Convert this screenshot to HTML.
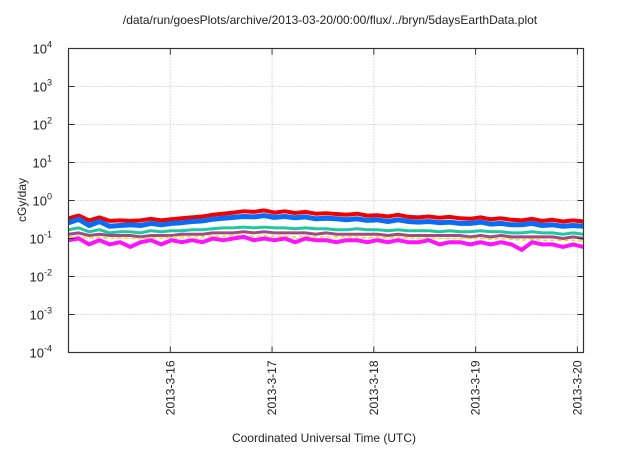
<!DOCTYPE html>
<html><head><meta charset="utf-8"><style>
body{margin:0;background:#fff}
svg text{font-family:"Liberation Sans",sans-serif;fill:#222}
</style></head><body>
<svg id="chart" width="640" height="448" viewBox="0 0 640 448" xmlns="http://www.w3.org/2000/svg">
<rect width="640" height="448" fill="#fff"/>
<text x="330" y="24" font-size="12" text-anchor="middle">/data/run/goesPlots/archive/2013-03-20/00:00/flux/../bryn/5daysEarthData.plot</text>
<text transform="translate(26,200) rotate(-90)" font-size="12" text-anchor="middle">cGy/day</text>
<text x="324" y="442" font-size="12" text-anchor="middle">Coordinated Universal Time (UTC)</text>
<g id="grid"></g><g id="series"></g><g id="axes"></g>
</svg>
<script>
const xTickLabels=["2013-3-16","2013-3-17","2013-3-18","2013-3-19","2013-3-20"];
const xTickDays=[1,2,3,4,5];
const yTickExps=[-4,-3,-2,-1,0,1,2,3,4];
const seriesNames=["red","blue","teal","mauve","yellow","magenta"];
const seriesColors=["#f00000","#0a6cf5","#1ec8a0","#a04a8a","#f0e000","#ff10ff"];
const redVals=[0.34,0.40,0.30,0.36,0.29,0.30,0.29,0.30,0.33,0.30,0.32,0.34,0.36,0.38,0.42,0.45,0.48,0.52,0.50,0.55,0.48,0.52,0.47,0.50,0.45,0.46,0.44,0.42,0.45,0.40,0.41,0.38,0.42,0.37,0.36,0.38,0.35,0.37,0.34,0.33,0.36,0.32,0.34,0.31,0.30,0.33,0.29,0.31,0.28,0.30,0.28];
const blueVals=[0.26,0.32,0.22,0.28,0.21,0.22,0.23,0.22,0.25,0.23,0.25,0.26,0.28,0.29,0.32,0.34,0.36,0.38,0.37,0.40,0.36,0.38,0.35,0.37,0.33,0.34,0.33,0.31,0.33,0.30,0.31,0.28,0.31,0.28,0.27,0.28,0.26,0.27,0.25,0.25,0.27,0.24,0.25,0.23,0.23,0.25,0.22,0.23,0.21,0.22,0.21];
const tealVals=[0.17,0.19,0.15,0.17,0.14,0.15,0.15,0.14,0.16,0.15,0.16,0.16,0.17,0.17,0.18,0.19,0.19,0.20,0.19,0.20,0.19,0.19,0.18,0.19,0.18,0.18,0.17,0.17,0.18,0.17,0.17,0.16,0.17,0.16,0.16,0.16,0.15,0.16,0.15,0.15,0.16,0.15,0.15,0.14,0.14,0.15,0.14,0.14,0.13,0.14,0.13];
const mauveVals=[0.13,0.14,0.12,0.13,0.12,0.12,0.12,0.11,0.12,0.12,0.12,0.13,0.13,0.13,0.14,0.14,0.14,0.15,0.14,0.15,0.14,0.14,0.14,0.14,0.13,0.14,0.13,0.13,0.13,0.13,0.13,0.12,0.13,0.12,0.12,0.12,0.12,0.12,0.12,0.11,0.12,0.11,0.12,0.11,0.11,0.11,0.11,0.11,0.10,0.11,0.10];
const yellowVals=[0.11,0.115,0.105,0.11,0.10,0.105,0.10,0.10,0.105,0.10,0.11,0.11,0.11,0.11,0.115,0.115,0.12,0.12,0.115,0.12,0.115,0.115,0.11,0.115,0.11,0.11,0.11,0.11,0.11,0.105,0.11,0.105,0.11,0.105,0.10,0.105,0.10,0.10,0.10,0.10,0.10,0.095,0.10,0.095,0.09,0.095,0.09,0.09,0.09,0.09,0.085];
const magentaVals=[0.09,0.10,0.07,0.09,0.07,0.08,0.06,0.08,0.09,0.07,0.09,0.08,0.09,0.08,0.10,0.09,0.10,0.11,0.09,0.10,0.09,0.10,0.08,0.10,0.09,0.09,0.08,0.09,0.09,0.08,0.09,0.08,0.09,0.08,0.08,0.09,0.07,0.08,0.08,0.07,0.08,0.07,0.08,0.07,0.05,0.08,0.07,0.07,0.06,0.07,0.06];
const allVals=[redVals,blueVals,tealVals,mauveVals,yellowVals,magentaVals];
const L=68.5,R=583.5,T=48.5,B=352.5,X0=0,X1=5.06,E0=-4,E1=4;
function xs(d){return L+(d-X0)/(X1-X0)*(R-L);}
function ys(v){return B-(Math.log10(v)-E0)/(E1-E0)*(B-T);}
const NS="http://www.w3.org/2000/svg";
function mk(tag,parent,attrs){const e=document.createElementNS(NS,tag);for(const k in attrs)e.setAttribute(k,attrs[k]);parent.appendChild(e);return e;}
const grid=document.getElementById('grid'),axes=document.getElementById('axes'),ser=document.getElementById('series');
yTickExps.forEach(p=>{
  const y=ys(Math.pow(10,p));
  if(p>E0&&p<E1){const g=mk('line',grid,{x1:L,x2:R,y1:y,y2:y,stroke:'#bbb','stroke-dasharray':'1,2'});
  
  }
  mk('line',axes,{x1:L,x2:L+6,y1:y,y2:y,stroke:'#333'});
  mk('line',axes,{x1:R,x2:R-6,y1:y,y2:y,stroke:'#333'});
  const t=mk('text',axes,{x:52,y:y+5,'font-size':13,'text-anchor':'end'});
  
  
  t.textContent='10';
  const s=mk('tspan',t,{dy:-6,'font-size':9});s.textContent=String(p);
});
xTickDays.forEach((d,i)=>{
  const x=xs(d);
  const g=mk('line',grid,{x1:x,x2:x,y1:T,y2:B,stroke:'#bbb','stroke-dasharray':'1,2'});
  
  
  mk('line',axes,{x1:x,x2:x,y1:B,y2:B-6,stroke:'#333'});
  mk('line',axes,{x1:x,x2:x,y1:T,y2:T+6,stroke:'#333'});
  const t=mk('text',axes,{transform:`translate(${x+4},${B+8}) rotate(-90)`,'font-size':12,'text-anchor':'end'});
  
  
  t.textContent=xTickLabels[i];
});
const fr=mk('rect',axes,{x:L,y:T,width:R-L,height:B-T,fill:'none',stroke:'#333','stroke-width':1.2});


const widths=[4,5,3,3,1.5,4];
allVals.forEach((vals,si)=>{
  const n=vals.length;
  const pts=vals.map((v,i)=>xs(X0+i*(X1-X0)/(n-1)).toFixed(1)+','+ys(v).toFixed(1)).join(' ');
  const pl=mk('polyline',ser,{points:pts,fill:'none',stroke:seriesColors[si],'stroke-width':widths[si],'stroke-linejoin':'round'});
  if(si===4)pl.setAttribute('stroke-dasharray','4,3');
  
  
});
</script>
</body></html>
